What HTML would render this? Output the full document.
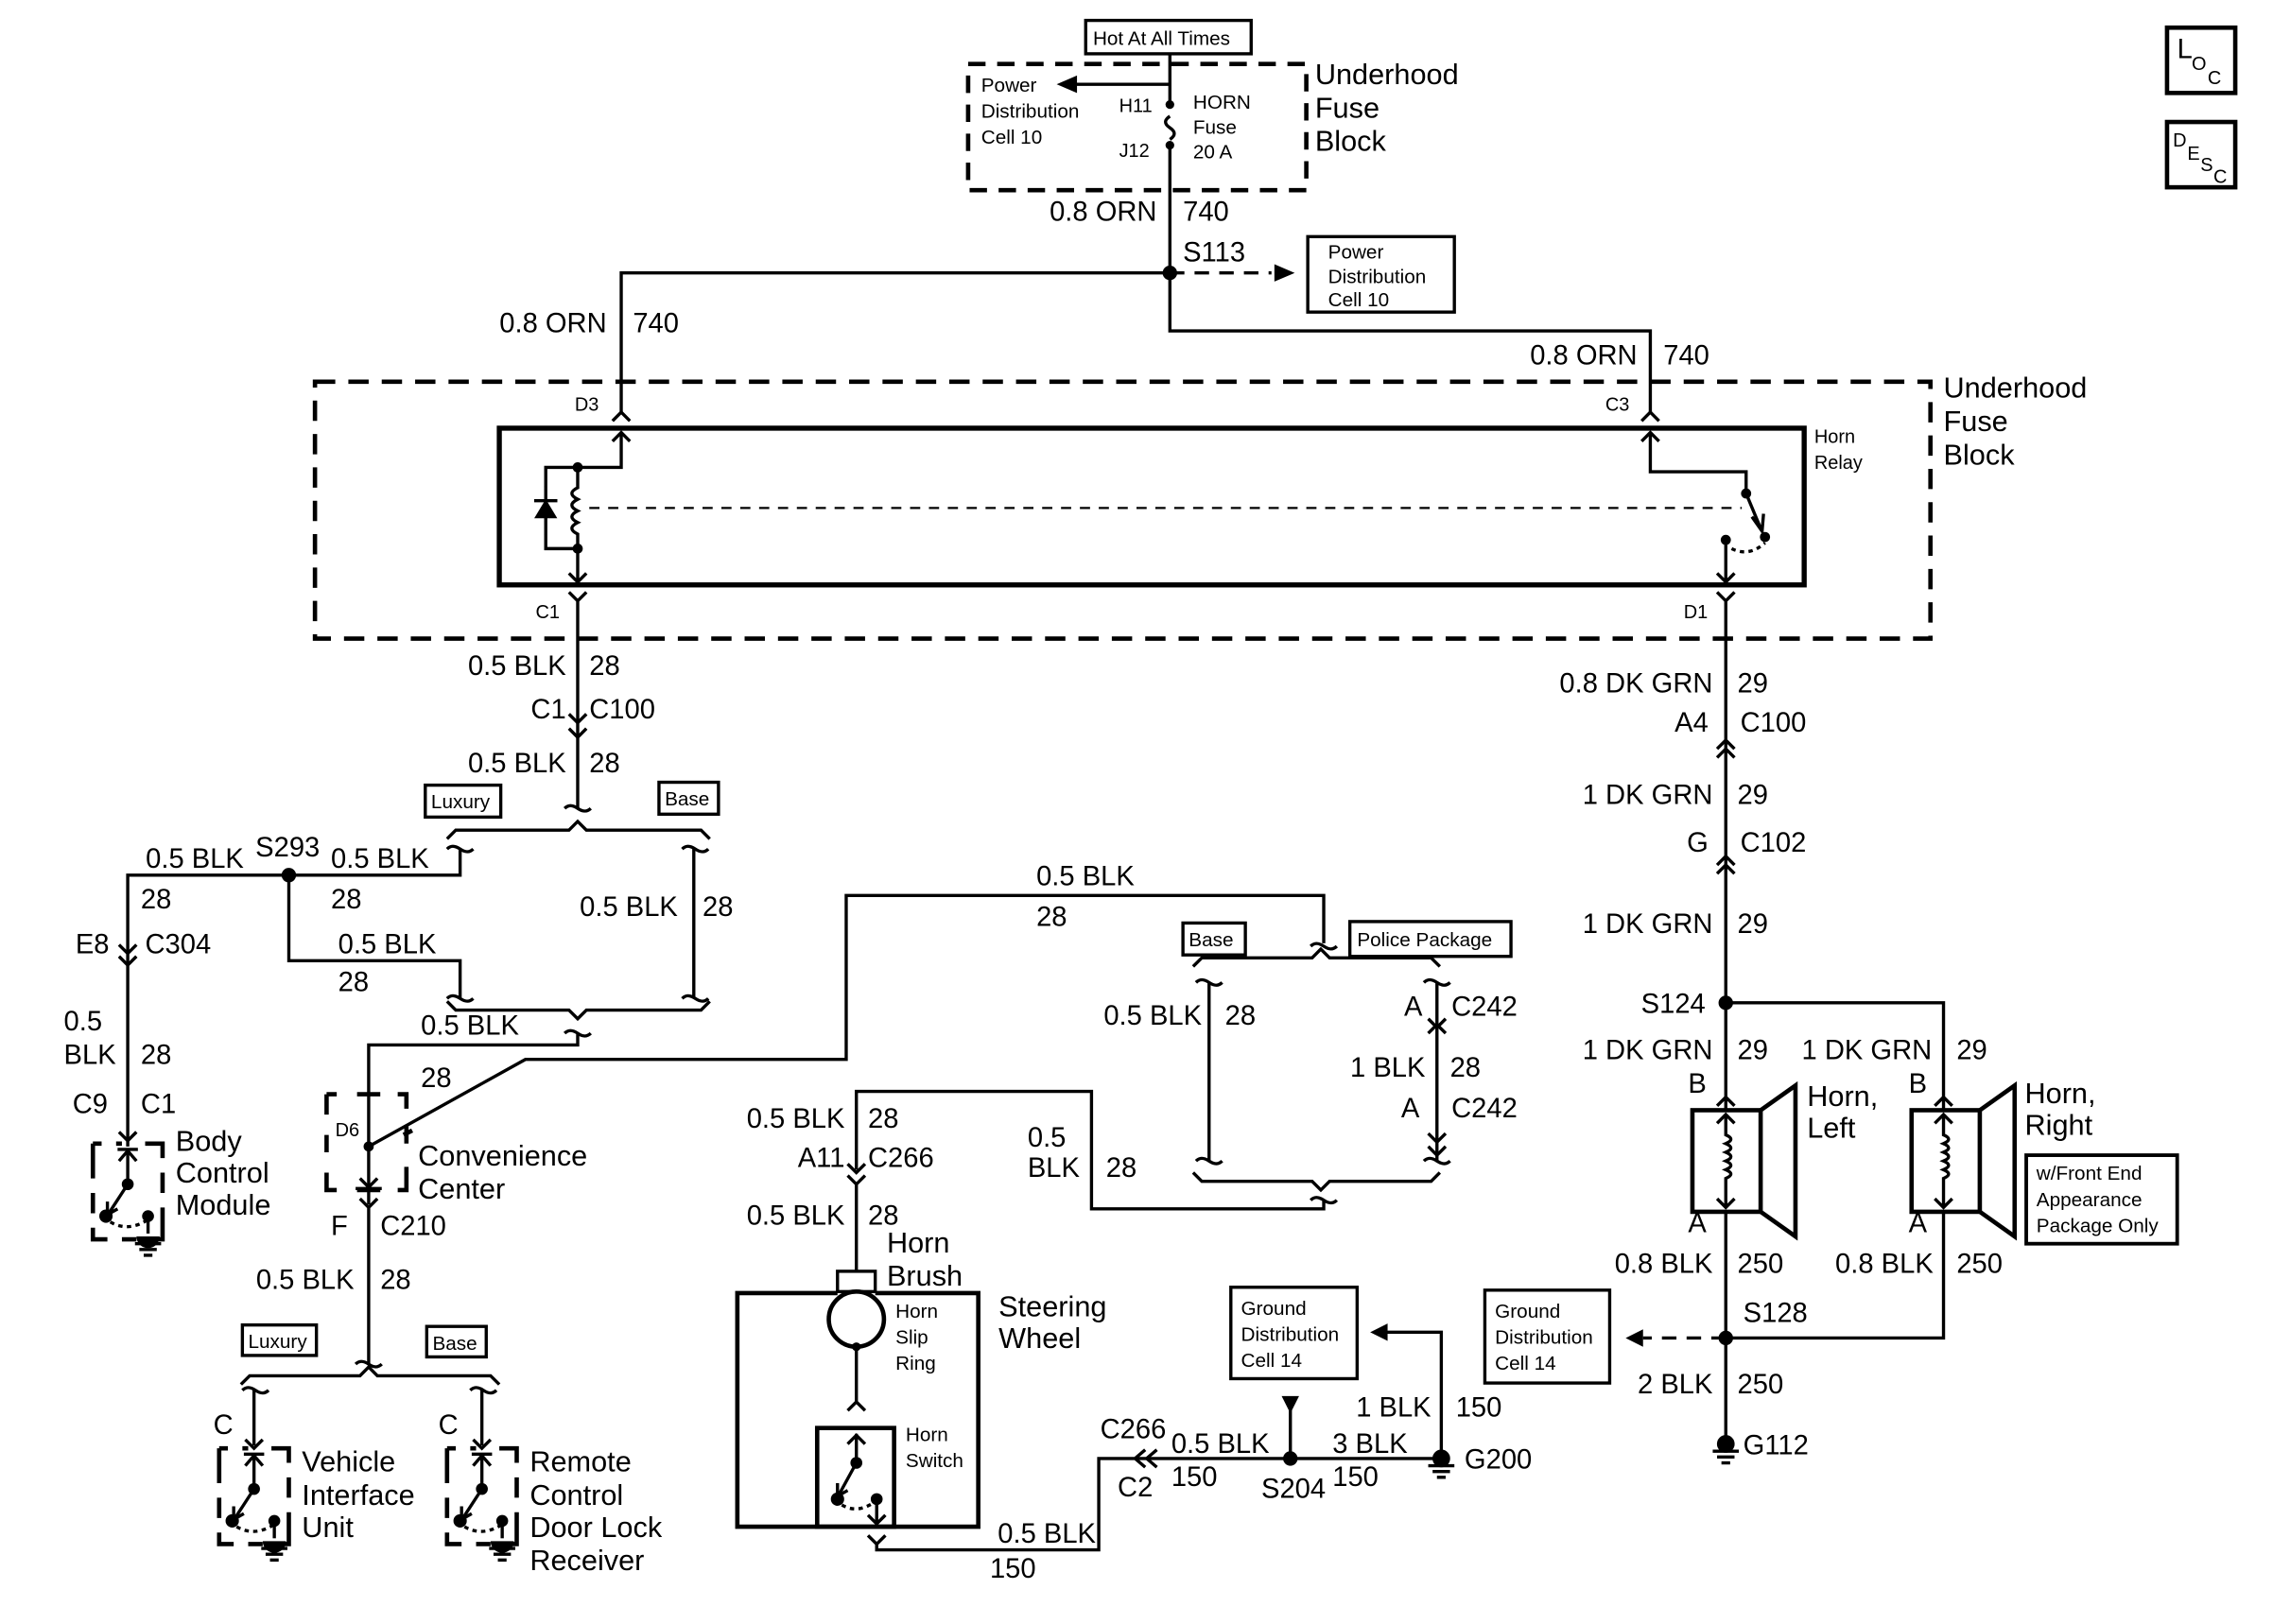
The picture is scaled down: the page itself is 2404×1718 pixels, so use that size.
<!DOCTYPE html>
<html><head><meta charset="utf-8"><style>
html,body{margin:0;padding:0;background:#fff}
svg{display:block}
text{font-family:"Liberation Sans",Arial,sans-serif;fill:#000}
.w{font-size:19px}.c{font-size:20px}.s{font-size:13.5px}.p{font-size:13px}
</style></head><body>
<svg width="2404" height="1718" viewBox="0 0 1566 1119" xmlns="http://www.w3.org/2000/svg">
<defs>
<g id="sw" fill="none" stroke="#000" stroke-width="2.2">
<path d="M0,0V24M-6,8L0,1L6,8M-7,0H7"/>
<circle cx="0" cy="24" r="3" fill="#000"/>
<path d="M0,24L-13,44M-14,36L-14,45L-7,41"/>
<circle cx="-15" cy="46" r="3.5" fill="#000"/>
<path d="M-12,50Q0,57 13,49" stroke-dasharray="3 3"/>
<circle cx="14" cy="46" r="3" fill="#000"/>
<path d="M14,46V58"/>
<path d="M-24,-4H-18M-8,-4H-4M12,-4H18H24V6M24,16V30M24,40V54V62H18M6,62H-4M-14,62H-24V54M-24,44V30M-24,20V6V-4" stroke-width="3"/>
<path d="M6,60A8,8 0 0 0 22,60Z" fill="#000" stroke="none"/>
<path d="M5,65H23M8,69H20M11,73H17"/>
</g>
<g id="gnd" fill="none" stroke="#000" stroke-width="2.2">
<circle cx="0" cy="0" r="5" fill="#000"/>
<path d="M-9,5H9M-6,9H6M-3,13H3"/>
</g>
</defs>

<g fill="none" stroke="#000" stroke-width="2.2">
<rect x="748" y="14" width="114" height="23"/>
<rect x="667" y="44" width="233" height="87" stroke-dasharray="12 8" stroke-width="3"/>
<path d="M806,37V72M806,80q-6,4 0,8q6,4 0,8M806,100V228H1137V284M806,188H428V284"/>
<path d="M806,58H740"/>
<path d="M806,188H876" stroke-dasharray="10 7"/>
<rect x="901" y="163" width="101" height="52"/>
<rect x="217" y="263" width="1113" height="177" stroke-dasharray="14 9" stroke-width="3"/>
<rect x="344" y="295" width="899" height="108" stroke-width="3.5"/>
<path d="M422,290L428,284L434,290M422,304L428,298L434,304"/>
<path d="M1131,290L1137,284L1143,290M1131,304L1137,298L1143,304"/>
<path d="M428,298V322H398V336q-8,4 0,8q-8,4 0,8q-8,4 0,8q-8,4 0,8V378H376V322H398M398,378V402M392,395L398,401L404,395"/>
<path d="M368,345H384M370,356L376,346L382,356Z" fill="#000"/>
<path d="M406,350H1200" stroke-dasharray="7 6" stroke-width="1.5"/>
<path d="M1137,298V325H1203V340L1213,364M1207,356L1214,366L1215,354"/>
<path d="M1189,372V402M1183,395L1189,401L1195,395"/>
<path d="M1193,378Q1205,384 1216,374" stroke-dasharray="3 3"/>
<path d="M392,408L398,414L404,408M398,414V557"/>
<path d="M392,492L398,498L404,492M392,502L398,508L404,502"/>
<path d="M389,557c3,-3 6,-2 9,0c3,2 6,3 9,0"/>
<rect x="293" y="541" width="52" height="22"/>
<rect x="454" y="539" width="41" height="22"/>
<path d="M308,578L314,572H392L398,566L404,572H483L489,578"/>
<path d="M308,585c3,-3 6,-2 9,0c3,2 6,3 9,0M317,585V603H88V790M478,585V688M470,585c3,-3 6,-2 9,0c3,2 6,3 9,0M470,688c3,-3 6,-2 9,0c3,2 6,3 9,0"/>
<path d="M199,603V662H317V688M308,688c3,-3 6,-2 9,0c3,2 6,3 9,0"/>
<path d="M308,690L314,696H392L398,702L404,696H483L489,690"/>
<path d="M389,712c3,-3 6,-2 9,0c3,2 6,3 9,0M398,712V720H254V830"/>
<path d="M82,651L88,657L94,651M82,659L88,665L94,659"/>
<path d="M82,780L88,786L94,780"/>
<path d="M225,754H232M246,754H262M274,754H280V764M280,776V788M280,804V820H274M262,820H246M232,820H225V808M225,794V782M225,768V754" stroke-width="3"/>
<path d="M254,790L362,730H583V617H912V650M248,812L254,818L260,812M248,826L254,832L260,826M254,832V940M245,819H263"/>
<path d="M903,652c3,-3 6,-2 9,0c3,2 6,3 9,0"/>
<path d="M245,940c3,-3 6,-2 9,0c3,2 6,3 9,0"/>
<rect x="167" y="913" width="51" height="21"/>
<rect x="294" y="914" width="41" height="21"/>
<path d="M166,954L172,948H248L254,942L260,948H338L344,954"/>
<path d="M167,958c3,-3 6,-2 9,0c3,2 6,3 9,0M175,958V996M169,992L175,998L181,992"/>
<path d="M324,958c3,-3 6,-2 9,0c3,2 6,3 9,0M332,958V996M326,992L332,998L338,992"/>
<rect x="815" y="636" width="43" height="22"/>
<rect x="930" y="635" width="111" height="24"/>
<path d="M822,666L828,660H904L910,654L916,660H986L992,666"/>
<path d="M824,677c3,-3 6,-2 9,0c3,2 6,3 9,0M833,677V800M824,800c3,-3 6,-2 9,0c3,2 6,3 9,0"/>
<path d="M981,677c3,-3 6,-2 9,0c3,2 6,3 9,0M990,677V800M981,800c3,-3 6,-2 9,0c3,2 6,3 9,0"/>
<path d="M984,702L990,708L996,702M984,712L990,706L996,712M984,781L990,787L996,781M984,790L990,796L996,790"/>
<path d="M822,808L828,814H904L910,820L916,814H986L992,808"/>
<path d="M903,827c3,-3 6,-2 9,0c3,2 6,3 9,0M912,827V833H752V752H590V806"/>
<path d="M584,802L590,808L596,802M584,810L590,816L596,810M590,816V876"/>
<rect x="577" y="876" width="26" height="14"/>
<path d="M603,891H674V1052H508V891H577" stroke-width="3"/>
<circle cx="590" cy="909" r="19" stroke-width="3"/>
<path d="M590,928V966M584,972L590,966L596,972"/>
<rect x="563" y="984" width="53" height="68" stroke-width="3"/>
<path d="M590,988V1008M584,995L590,989L596,995"/>
<circle cx="590" cy="1008" r="3" fill="#000"/>
<path d="M590,1008L578,1030M577,1022L577,1031L584,1027"/>
<circle cx="577" cy="1033" r="3.5" fill="#000"/>
<circle cx="604" cy="1033" r="3" fill="#000"/>
<path d="M580,1037Q590,1043 601,1036" stroke-dasharray="3 3"/>
<path d="M604,1033V1050M598,1044L604,1050L610,1044"/>
<path d="M598,1058L604,1064L610,1058M604,1064V1068H757V1005H790M797,999L790,1005L797,1011M789,999L782,1005L789,1011"/>
<path d="M790,1005H993V918H955M889,1005V970"/>
<rect x="848" y="887" width="87" height="63"/>
<rect x="1023" y="889" width="86" height="64"/>
<path d="M1189,922H1132" stroke-dasharray="10 7"/>
<path d="M1183,408L1189,414L1195,408M1189,414V995"/>
<path d="M1183,516L1189,510L1195,516M1183,522L1189,516L1195,522"/>
<path d="M1183,596L1189,590L1195,596M1183,602L1189,596L1195,602"/>
<path d="M1189,691H1339V922H1189"/>
<path d="M1183,762L1189,756L1195,762M1333,762L1339,756L1345,762"/>
<path d="M1183,832L1189,826L1195,832M1333,832L1339,826L1345,832"/>
<rect x="1166" y="765" width="47" height="70" stroke-width="3" fill="#fff"/>
<path d="M1213,765L1237,748V852L1213,835" stroke-width="3"/>
<rect x="1317" y="765" width="47" height="70" stroke-width="3" fill="#fff"/>
<path d="M1364,765L1388,748V852L1364,835" stroke-width="3"/>
<path d="M1189,768V782q7,3 0,6q7,3 0,6q7,3 0,6q7,3 0,6q7,3 0,6V832M1183,774L1189,768L1195,774M1183,826L1189,832L1195,826"/>
<path d="M1339,768V782q7,3 0,6q7,3 0,6q7,3 0,6q7,3 0,6q7,3 0,6V832M1333,774L1339,768L1345,774M1333,826L1339,832L1345,826"/>
<rect x="1396" y="796" width="104" height="61" stroke-width="2.5"/>
<rect x="1493" y="19" width="47" height="45" stroke-width="3"/>
<rect x="1493" y="84" width="47" height="45" stroke-width="3"/>
</g>
<g fill="#000" stroke="none">
<path d="M728,58L742,52V64Z"/>
<path d="M892,188L878,182V194Z"/>
<circle cx="806" cy="188" r="5"/>
<circle cx="806" cy="72" r="3"/><circle cx="806" cy="100" r="3"/>
<circle cx="398" cy="322" r="3.5"/><circle cx="398" cy="378" r="3.5"/>
<circle cx="1203" cy="340" r="3.5"/><circle cx="1216" cy="370" r="3.5"/><circle cx="1189" cy="372" r="3.5"/>
<circle cx="199" cy="603" r="5"/>
<circle cx="254" cy="790" r="3.5"/>
<circle cx="590" cy="928" r="3"/>
<circle cx="1189" cy="691" r="5"/>
<circle cx="1189" cy="922" r="5"/>
<circle cx="889" cy="1005" r="5"/>
<path d="M944,918L956,912V924Z"/>
<path d="M1120,922L1132,916V928Z"/>
<path d="M883,962H895L889,974Z"/>
</g>
<use href="#sw" x="88" y="792"/>
<use href="#sw" x="175" y="1002"/>
<use href="#sw" x="332" y="1002"/>
<use href="#gnd" x="993" y="1005"/>
<use href="#gnd" x="1189" y="995"/>
<path d="M278,782L284,779" stroke="#000" stroke-width="3"/>

<text class="s" x="753" y="31">Hot At All Times</text>
<text class="s" x="676" y="63">Power</text>
<text class="s" x="676" y="81">Distribution</text>
<text class="s" x="676" y="99">Cell 10</text>
<text class="p" x="771" y="77">H11</text>
<text class="p" x="771" y="108">J12</text>
<text class="s" x="822" y="75">HORN</text>
<text class="s" x="822" y="92">Fuse</text>
<text class="s" x="822" y="109">20 A</text>
<text class="c" x="906" y="58">Underhood</text>
<text class="c" x="906" y="81">Fuse</text>
<text class="c" x="906" y="104">Block</text>
<text class="w" x="797" y="152" text-anchor="end">0.8 ORN</text>
<text class="w" x="815" y="152">740</text>
<text class="w" x="815" y="180">S113</text>
<text class="s" x="915" y="178">Power</text>
<text class="s" x="915" y="195">Distribution</text>
<text class="s" x="915" y="211">Cell 10</text>
<text class="w" x="418" y="229" text-anchor="end">0.8 ORN</text>
<text class="w" x="436" y="229">740</text>
<text class="w" x="1128" y="251" text-anchor="end">0.8 ORN</text>
<text class="w" x="1146" y="251">740</text>
<text class="c" x="1339" y="274">Underhood</text>
<text class="c" x="1339" y="297">Fuse</text>
<text class="c" x="1339" y="320">Block</text>
<text class="p" x="1250" y="305">Horn</text>
<text class="p" x="1250" y="323">Relay</text>
<text class="p" x="396" y="283">D3</text>
<text class="p" x="1106" y="283">C3</text>
<text class="p" x="369" y="426">C1</text>
<text class="p" x="1160" y="426">D1</text>
<text class="w" x="390" y="465" text-anchor="end">0.5 BLK</text>
<text class="w" x="406" y="465">28</text>
<text class="w" x="390" y="495" text-anchor="end">C1</text>
<text class="w" x="406" y="495">C100</text>
<text class="w" x="390" y="532" text-anchor="end">0.5 BLK</text>
<text class="w" x="406" y="532">28</text>
<text class="s" x="297" y="557">Luxury</text>
<text class="s" x="458" y="555">Base</text>
<text class="w" x="168" y="598" text-anchor="end">0.5 BLK</text>
<text class="w" x="176" y="590">S293</text>
<text class="w" x="97" y="626">28</text>
<text class="w" x="228" y="598">0.5 BLK</text>
<text class="w" x="228" y="626">28</text>
<text class="w" x="233" y="657">0.5 BLK</text>
<text class="w" x="233" y="683">28</text>
<text class="w" x="467" y="631" text-anchor="end">0.5 BLK</text>
<text class="w" x="484" y="631">28</text>
<text class="w" x="52" y="657">E8</text>
<text class="w" x="100" y="657">C304</text>
<text class="w" x="44" y="710">0.5</text>
<text class="w" x="44" y="733">BLK</text>
<text class="w" x="97" y="733">28</text>
<text class="w" x="50" y="767">C9</text>
<text class="w" x="97" y="767">C1</text>
<text class="c" x="121" y="793">Body</text>
<text class="c" x="121" y="815">Control</text>
<text class="c" x="121" y="837">Module</text>
<text class="w" x="290" y="713">0.5 BLK</text>
<text class="w" x="290" y="749">28</text>
<text class="p" x="231" y="783">D6</text>
<text class="c" x="288" y="803">Convenience</text>
<text class="c" x="288" y="826">Center</text>
<text class="w" x="228" y="851">F</text>
<text class="w" x="262" y="851">C210</text>
<text class="w" x="244" y="888" text-anchor="end">0.5 BLK</text>
<text class="w" x="262" y="888">28</text>
<text class="s" x="171" y="929">Luxury</text>
<text class="s" x="298" y="930">Base</text>
<text class="w" x="147" y="988">C</text>
<text class="w" x="302" y="988">C</text>
<text class="c" x="208" y="1014">Vehicle</text>
<text class="c" x="208" y="1037">Interface</text>
<text class="c" x="208" y="1059">Unit</text>
<text class="c" x="365" y="1014">Remote</text>
<text class="c" x="365" y="1037">Control</text>
<text class="c" x="365" y="1059">Door Lock</text>
<text class="c" x="365" y="1082">Receiver</text>
<text class="w" x="714" y="610">0.5 BLK</text>
<text class="w" x="714" y="638">28</text>
<text class="s" x="819" y="652">Base</text>
<text class="s" x="935" y="652">Police Package</text>
<text class="w" x="828" y="706" text-anchor="end">0.5 BLK</text>
<text class="w" x="844" y="706">28</text>
<text class="w" x="980" y="700" text-anchor="end">A</text>
<text class="w" x="1000" y="700">C242</text>
<text class="w" x="982" y="742" text-anchor="end">1 BLK</text>
<text class="w" x="999" y="742">28</text>
<text class="w" x="978" y="770" text-anchor="end">A</text>
<text class="w" x="1000" y="770">C242</text>
<text class="w" x="708" y="790">0.5</text>
<text class="w" x="708" y="811">BLK</text>
<text class="w" x="762" y="811">28</text>
<text class="w" x="582" y="777" text-anchor="end">0.5 BLK</text>
<text class="w" x="598" y="777">28</text>
<text class="w" x="582" y="804" text-anchor="end">A11</text>
<text class="w" x="598" y="804">C266</text>
<text class="w" x="582" y="844" text-anchor="end">0.5 BLK</text>
<text class="w" x="598" y="844">28</text>
<text class="c" x="611" y="863">Horn</text>
<text class="c" x="611" y="886">Brush</text>
<text class="c" x="688" y="907">Steering</text>
<text class="c" x="688" y="929">Wheel</text>
<text class="s" x="617" y="908">Horn</text>
<text class="s" x="617" y="926">Slip</text>
<text class="s" x="617" y="944">Ring</text>
<text class="s" x="624" y="993">Horn</text>
<text class="s" x="624" y="1011">Switch</text>
<text class="w" x="755" y="1063" text-anchor="end">0.5 BLK</text>
<text class="w" x="682" y="1087">150</text>
<text class="w" x="758" y="991">C266</text>
<text class="w" x="770" y="1031">C2</text>
<text class="w" x="807" y="1001">0.5 BLK</text>
<text class="w" x="807" y="1024">150</text>
<text class="w" x="869" y="1032">S204</text>
<text class="w" x="918" y="1001">3 BLK</text>
<text class="w" x="918" y="1024">150</text>
<text class="w" x="986" y="976" text-anchor="end">1 BLK</text>
<text class="w" x="1003" y="976">150</text>
<text class="w" x="1009" y="1012">G200</text>
<text class="s" x="855" y="906">Ground</text>
<text class="s" x="855" y="924">Distribution</text>
<text class="s" x="855" y="942">Cell 14</text>
<text class="s" x="1030" y="908">Ground</text>
<text class="s" x="1030" y="926">Distribution</text>
<text class="s" x="1030" y="944">Cell 14</text>
<text class="w" x="1180" y="477" text-anchor="end">0.8 DK GRN</text>
<text class="w" x="1197" y="477">29</text>
<text class="w" x="1177" y="504" text-anchor="end">A4</text>
<text class="w" x="1199" y="504">C100</text>
<text class="w" x="1180" y="554" text-anchor="end">1 DK GRN</text>
<text class="w" x="1197" y="554">29</text>
<text class="w" x="1177" y="587" text-anchor="end">G</text>
<text class="w" x="1199" y="587">C102</text>
<text class="w" x="1180" y="643" text-anchor="end">1 DK GRN</text>
<text class="w" x="1197" y="643">29</text>
<text class="w" x="1175" y="698" text-anchor="end">S124</text>
<text class="w" x="1180" y="730" text-anchor="end">1 DK GRN</text>
<text class="w" x="1197" y="730">29</text>
<text class="w" x="1331" y="730" text-anchor="end">1 DK GRN</text>
<text class="w" x="1348" y="730">29</text>
<text class="w" x="1163" y="753">B</text>
<text class="w" x="1315" y="753">B</text>
<text class="c" x="1245" y="762">Horn,</text>
<text class="c" x="1245" y="784">Left</text>
<text class="c" x="1395" y="760">Horn,</text>
<text class="c" x="1395" y="782">Right</text>
<text class="s" x="1403" y="813">w/Front End</text>
<text class="s" x="1403" y="831">Appearance</text>
<text class="s" x="1403" y="849">Package Only</text>
<text class="w" x="1163" y="849">A</text>
<text class="w" x="1315" y="849">A</text>
<text class="w" x="1180" y="877" text-anchor="end">0.8 BLK</text>
<text class="w" x="1197" y="877">250</text>
<text class="w" x="1332" y="877" text-anchor="end">0.8 BLK</text>
<text class="w" x="1348" y="877">250</text>
<text class="w" x="1201" y="911">S128</text>
<text class="w" x="1180" y="960" text-anchor="end">2 BLK</text>
<text class="w" x="1197" y="960">250</text>
<text class="w" x="1201" y="1002">G112</text>
<text class="w" x="1500" y="40">L</text>
<text class="p" x="1510" y="48">O</text>
<text class="p" x="1521" y="58">C</text>
<text class="p" x="1497" y="101">D</text>
<text class="p" x="1507" y="110">E</text>
<text class="p" x="1516" y="118">S</text>
<text class="p" x="1525" y="126">C</text>
</svg>
</body></html>
